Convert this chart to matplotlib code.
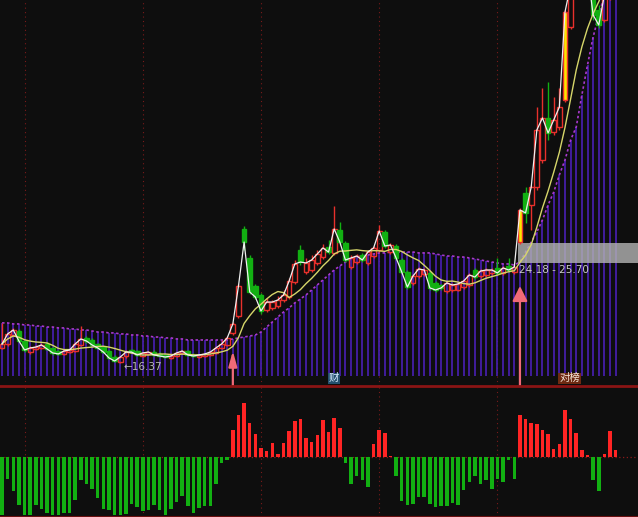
import numpy as np
import pandas as pd
import matplotlib
matplotlib.use("Agg")
import matplotlib.pyplot as plt

# daily candles, oldest first
opens = [17.53, 17.84, 18.54, 18.85, 18.07, 17.21, 17.45, 17.53, 17.84, 17.53,
         17.29, 17.06, 17.21, 17.29, 17.76, 18.31, 18.15, 17.84, 17.60, 17.29,
         16.82, 16.43, 16.90, 17.37, 17.29, 16.90, 17.06, 17.21, 17.06, 16.98,
         16.75, 16.90, 17.14, 17.29, 16.98, 16.82, 16.90, 16.98, 17.14, 17.53,
         17.76, 18.70, 20.02, 26.81, 24.55, 22.36, 21.66, 20.49, 20.65, 20.80,
         21.27, 21.50, 22.67, 25.17, 23.45, 23.61, 24.16, 24.62, 25.40, 24.94,
         26.73, 25.72, 23.84, 24.23, 24.78, 24.16, 24.70, 25.17, 26.57, 25.01,
         25.48, 24.39, 23.45, 22.60, 23.14, 23.30, 23.38, 22.60, 22.44, 21.97,
         22.05, 22.05, 22.28, 22.44, 23.61, 23.14, 23.22, 23.38, 23.77, 23.38,
         23.92, 23.45, 25.79, 29.62, 28.68, 30.08, 32.19, 35.47, 34.37, 34.76,
         36.87, 42.56, 45.84, 48.18, 48.96, 46.23, 43.89, 43.11, 45.06, 47.01]
closes = [17.84, 18.62, 18.93, 18.07, 17.37, 17.53, 17.60, 17.76, 17.45, 17.14,
          17.06, 17.29, 17.37, 17.84, 18.23, 18.07, 17.76, 17.53, 17.21, 16.75,
          16.51, 16.82, 17.21, 17.21, 16.98, 17.14, 17.21, 16.98, 16.90, 16.82,
          16.90, 17.14, 17.29, 16.98, 16.90, 16.98, 17.06, 17.21, 17.53, 17.84,
          18.31, 19.40, 22.36, 25.79, 21.89, 21.50, 20.41, 21.11, 21.11, 21.27,
          21.66, 22.75, 24.08, 24.23, 24.16, 24.39, 24.86, 25.33, 25.01, 26.81,
          25.79, 24.39, 24.55, 24.70, 24.39, 25.01, 25.33, 26.65, 25.48, 25.56,
          24.55, 23.45, 22.28, 23.14, 23.69, 23.61, 22.21, 22.05, 22.21, 22.60,
          22.44, 22.52, 22.75, 23.22, 23.06, 23.53, 23.61, 23.61, 23.38, 23.77,
          23.61, 23.84, 28.29, 28.06, 30.08, 34.53, 35.47, 34.30, 35.31, 36.32,
          43.73, 45.84, 48.18, 48.96, 47.01, 43.50, 42.72, 45.06, 47.01, 47.79]
highs = [19.48, 18.77, 19.09, 19.01, 18.15, 17.68, 17.76, 17.92, 17.99, 17.60,
         17.37, 17.45, 17.53, 17.99, 19.24, 18.46, 18.31, 17.92, 17.68, 17.37,
         16.98, 16.90, 17.37, 17.45, 17.37, 17.21, 17.29, 17.37, 17.21, 17.06,
         16.98, 17.21, 17.37, 17.37, 17.14, 17.06, 17.14, 17.29, 17.68, 18.15,
         18.46, 19.55, 22.52, 27.04, 24.78, 22.52, 21.82, 21.43, 21.27, 21.58,
         22.05, 22.99, 24.39, 25.56, 24.55, 24.78, 25.17, 25.64, 25.95, 28.61,
         27.35, 25.87, 24.78, 24.86, 24.94, 25.17, 25.48, 27.12, 26.73, 25.72,
         25.64, 24.55, 23.61, 23.30, 23.84, 23.77, 23.53, 22.75, 22.52, 22.75,
         22.60, 22.67, 22.91, 23.38, 23.77, 23.69, 23.77, 23.77, 24.55, 23.92,
         24.55, 24.00, 28.45, 30.08, 30.24, 36.32, 37.81, 38.27, 37.10, 37.81,
         43.89, 46.23, 48.57, 49.74, 49.35, 46.62, 44.28, 45.45, 47.40, 48.57]
lows = [17.45, 17.68, 18.46, 17.99, 17.21, 17.06, 17.37, 17.45, 17.37, 16.98,
        16.98, 16.98, 17.14, 17.21, 17.68, 17.92, 17.68, 17.45, 17.14, 16.67,
        16.43, 16.37, 16.75, 17.14, 16.90, 16.82, 16.98, 16.90, 16.82, 16.75,
        16.67, 16.82, 17.06, 16.90, 16.82, 16.75, 16.82, 16.90, 17.06, 17.45,
        17.68, 18.54, 19.87, 25.17, 21.74, 21.35, 20.18, 20.33, 20.49, 20.65,
        21.11, 21.35, 22.52, 24.00, 23.30, 23.45, 24.00, 24.47, 24.86, 24.78,
        25.56, 24.23, 23.69, 24.08, 24.23, 24.00, 24.55, 25.01, 25.33, 24.86,
        24.39, 23.30, 22.13, 22.44, 22.99, 23.14, 22.05, 21.89, 22.05, 21.82,
        21.89, 21.97, 22.13, 22.28, 22.91, 22.99, 23.06, 23.22, 23.22, 23.22,
        23.45, 23.30, 25.64, 27.28, 26.73, 29.85, 31.96, 33.75, 34.14, 34.53,
        36.71, 42.41, 45.45, 47.40, 46.62, 43.11, 42.49, 42.95, 44.67, 46.62]

# purple dotted trend line (top of the purple columns)
trend = [19.48, 19.48, 19.40, 19.40, 19.32, 19.32, 19.24, 19.24, 19.16, 19.16,
         19.09, 19.09, 19.01, 19.01, 18.93, 18.93, 18.85, 18.77, 18.77, 18.70,
         18.70, 18.62, 18.62, 18.54, 18.54, 18.46, 18.46, 18.38, 18.38, 18.31,
         18.31, 18.23, 18.23, 18.15, 18.15, 18.15, 18.15, 18.15, 18.15, 18.15,
         18.15, 18.23, 18.31, 18.38, 18.46, 18.54, 18.77, 19.16, 19.55, 19.94,
         20.33, 20.65, 21.04, 21.35, 21.66, 22.05, 22.44, 22.83, 23.22, 23.61,
         23.92, 24.23, 24.47, 24.62, 24.70, 24.78, 24.86, 24.94, 24.94, 25.01,
         25.01, 25.01, 25.01, 25.01, 24.94, 24.94, 24.94, 24.86, 24.78, 24.70,
         24.70, 24.62, 24.62, 24.55, 24.47, 24.39, 24.31, 24.23, 24.16, 24.08,
         24.08, 24.00, 24.23, 25.01, 25.79, 26.57, 27.51, 28.68, 29.69, 31.02,
         32.19, 33.75, 34.76, 37.26, 39.60, 41.78, 43.50, 45.06, 46.23, 47.40]
trend_base = 15.34

# lower indicator histogram
hist = [-58, -22, -34, -48, -58, -58, -48, -52, -56, -58,
        -58, -56, -56, -43, -23, -27, -32, -41, -52, -53,
        -58, -58, -57, -47, -50, -54, -53, -48, -53, -58,
        -52, -45, -39, -49, -56, -51, -49, -49, -27, -6,
        -3, 27, 42, 54, 34, 23, 9, 6, 14, 3,
        14, 26, 36, 38, 19, 15, 22, 37, 25, 39,
        29, -6, -27, -19, -23, -30, 13, 27, 24, 1,
        -19, -44, -48, -47, -40, -40, -47, -50, -49, -49,
        -46, -48, -33, -25, -19, -27, -23, -32, -22, -25,
        -3, -22, 42, 38, 34, 33, 27, 23, 8, 13,
        47, 38, 24, 7, 2, -23, -34, 3, 26, 7]

limit_up_bars = [92, 100]
signal_bars = [41, 92]
signal_tips = [17.29, 22.36]
month_starts = [4, 25, 46, 67, 88]
low_bar, low_price = 21, 16.37
band_low, band_high = 24.18, 25.70
event_marks = [(59, "财", "#24506e", "#d8ecff"), (100.8, "对榜", "#6e2a12", "#f4e6d8")]

BG = "#0e0e0e"
RED = "#e8302c"
GREEN = "#12b012"

x = np.arange(len(closes))
o = np.array(opens)
c = np.array(closes)
h = np.array(highs)
l = np.array(lows)
ma = pd.Series(closes).rolling(8, min_periods=1).mean()

fig = plt.figure(figsize=(6.38, 5.17), dpi=100, facecolor=BG)
ax = fig.add_axes([0, 131 / 517, 1, 386 / 517], facecolor=BG)
ax2 = fig.add_axes([0, 0, 1, 131 / 517], facecolor=BG)

for a in (ax, ax2):
    a.set_xlim(-0.36, 112.97)
    a.set_xticks([])
    a.set_yticks([])
    for s in a.spines.values():
        s.set_visible(False)
    for m in month_starts:
        a.axvline(m, color="#7a1a1a", lw=0.8, ls=(0, (1, 3)), zorder=0.5)

ax.set_ylim(14.56, 44.67)

# purple columns and dotted trend
ax.vlines(x, trend_base, trend, color="#4a1fb4", lw=1.2, zorder=1)
ax.plot(x, trend, color="#a838cc", lw=1.2, ls=(0, (1.5, 1.5)), zorder=2)

# grey price band
ax.add_patch(plt.Rectangle((91.6, band_low), 30, band_high - band_low,
                           facecolor="#b4b4b4", alpha=0.8, edgecolor="none", zorder=2.5))
ax.text(91.9, band_low - 0.6, f"{band_low:.2f} - {band_high:.2f}", color="#c8c8c8",
        fontsize=7.5, ha="left", va="center", zorder=6)

# candles
up = c >= o
for i in x:
    top, bot = max(o[i], c[i]), min(o[i], c[i])
    if i in limit_up_bars:
        face, edge = "#ffe600", RED
    elif up[i]:
        face, edge = "none", RED
    else:
        face, edge = GREEN, GREEN
    ax.vlines(i, top, h[i], color=edge, lw=1, zorder=3)
    ax.vlines(i, l[i], bot, color=edge, lw=1, zorder=3)
    ax.bar(i, max(top - bot, 0.05), bottom=bot, width=0.84, facecolor=face,
           edgecolor=edge, lw=1, zorder=3.2)

ax.plot(x, ma, color="#d6d66a", lw=1.0, zorder=4)
ax.plot(x, c, color="#f0f0f0", lw=0.9, zorder=5)

ax.text(low_bar + 0.6, low_price - 0.33, f"\u2190{low_price:.2f}", color="#b8b8b8",
        fontsize=7.5, ha="left", va="center", zorder=6)

for xi, label, bg, fg in event_marks:
    ax.text(xi, 15.15, label, color=fg, fontsize=7.5, ha="center", va="center",
            family=["Noto Sans CJK SC", "DejaVu Sans"], zorder=6,
            bbox=dict(boxstyle="square,pad=0.08", facecolor=bg, edgecolor="none"))

# signal arrows crossing into the lower panel
for k, (b, tip) in enumerate(zip(signal_bars, signal_tips)):
    hw = 0.25 if k == 0 else 0.45
    ax.annotate("", xy=(b, tip), xytext=(b, tip - (9.2 if k == 0 else 8.9)),
                arrowprops=dict(arrowstyle=f"-|>,head_length=0.9,head_width={hw}",
                                color="#f06a78", lw=1.6, shrinkA=0, shrinkB=0),
                annotation_clip=False, zorder=7)

# lower histogram
hv = np.array(hist)
ax2.set_ylim(-60.3, 70.7)
ax2.axhline(0, color="#8a1a1a", lw=0.9, ls=(0, (1, 2)), zorder=0.5)
ax2.bar(x, hv, width=0.62, color=np.where(hv > 0, "#ff2424", GREEN), zorder=2)
ax2.spines["top"].set_visible(True)
ax2.spines["top"].set_color("#8a1414")
ax2.spines["top"].set_linewidth(2)
ax2.spines["bottom"].set_visible(True)
ax2.spines["bottom"].set_color("#6a1010")
ax2.spines["bottom"].set_linewidth(1.5)

fig.savefig("out.png", dpi=100, facecolor=BG)
